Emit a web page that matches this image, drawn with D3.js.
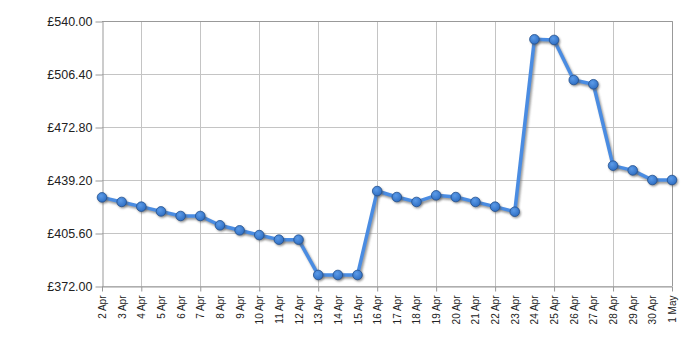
<!DOCTYPE html>
<html>
<head>
<meta charset="utf-8">
<script src="https://cdn.jsdelivr.net/npm/d3@7"></script>
<style>
	body { margin: 0; background: #fff; }
	svg { display: block; font-family: 'DejaVu Sans', Verdana, sans-serif; }
	.grid line { stroke: #c4c4c4; stroke-width: 1; }
	.axis path, .axis line { stroke: #999; }
	.axis text { fill: #222; }
</style>
</head>
<body>
<svg id="chart" width="700" height="350"></svg>
<script>
const dates = ['2 Apr', '3 Apr', '4 Apr', '5 Apr', '6 Apr', '7 Apr', '8 Apr', '9 Apr', '10 Apr', '11 Apr',
	'12 Apr', '13 Apr', '14 Apr', '15 Apr', '16 Apr', '17 Apr', '18 Apr', '19 Apr', '20 Apr', '21 Apr',
	'22 Apr', '23 Apr', '24 Apr', '25 Apr', '26 Apr', '27 Apr', '28 Apr', '29 Apr', '30 Apr', '1 May']
const prices = [428.2, 425.3, 422.3, 419.3, 416.4, 416.4, 410.5, 407.3, 404.3, 401.4,
	401.4, 379.0, 379.0, 379.0, 432.2, 428.4, 425.3, 429.5, 428.4, 425.3,
	422.3, 419.1, 528.4, 528.0, 502.6, 499.9, 448.3, 445.3, 439.2, 439.2]
const yTicks = [372, 405.6, 439.2, 472.8, 506.4, 540]
const majorDates = ['4 Apr', '7 Apr', '10 Apr', '13 Apr', '16 Apr', '19 Apr', '22 Apr', '25 Apr', '28 Apr', '1 May']

function priceChart() {
	const width = 700
	const height = 350
	const margin = { top: 21, right: 28, bottom: 64, left: 102 }

	const data = dates.map((d, i) => ({ date: d, price: prices[i] }))

	const xScale = d3.scalePoint().domain(dates).range([margin.left, width - margin.right])
	const yScale = d3.scaleLinear().domain([372, 540]).range([height - margin.bottom, margin.top])

	const svg = d3.select('#chart')

	const defs = svg.append('defs')
	const grad = defs.append('radialGradient').attr('id', 'dot').attr('cx', '40%').attr('cy', '35%').attr('r', '65%')
	grad.append('stop').attr('offset', '0%').attr('stop-color', '#5c9be8')
	grad.append('stop').attr('offset', '100%').attr('stop-color', '#2f6fc4')
	const blur = defs.append('filter').attr('id', 'soft').attr('x', '-20%').attr('y', '-20%').attr('width', '140%').attr('height', '140%')
	blur.append('feGaussianBlur').attr('stdDeviation', 0.8)

	// grid
	svg.append('g').attr('class', 'grid')
		.selectAll('line').data(yTicks).join('line')
		.attr('x1', margin.left).attr('x2', width - margin.right)
		.attr('y1', d => yScale(d) + 0.5).attr('y2', d => yScale(d) + 0.5)
	svg.append('g').attr('class', 'grid')
		.selectAll('line').data(majorDates).join('line')
		.attr('x1', d => Math.round(xScale(d)) + 0.5).attr('x2', d => Math.round(xScale(d)) + 0.5)
		.attr('y1', margin.top).attr('y2', height - margin.bottom)

	// frame top / right
	svg.append('path')
		.attr('d', `M${margin.left},${margin.top + 0.5}H${width - margin.right + 0.5}V${height - margin.bottom}`)
		.attr('fill', 'none').attr('stroke', '#999')

	const yAxis = d3.axisLeft(yScale).tickValues(yTicks).tickSize(7).tickSizeOuter(0)
		.tickFormat(d => '£' + d3.format('.2f')(d))
	svg.append('g').attr('class', 'axis')
		.attr('transform', `translate(${margin.left + 0.5},0.5)`)
		.call(yAxis)
		.call(g => g.select('.domain').attr('stroke', '#999'))
		.call(g => g.selectAll('line').attr('stroke', '#222'))
		.selectAll('text').attr('font-size', 12.5).attr('x', -10)

	const xAxis = d3.axisBottom(xScale).tickSize(0).tickSizeOuter(0)
	const gx = svg.append('g').attr('class', 'axis')
		.attr('transform', `translate(0,${height - margin.bottom + 0.5})`)
		.call(xAxis)
	gx.select('.domain').attr('stroke', '#999')
	gx.selectAll('text')
		.attr('font-size', 10)
		.attr('transform', 'rotate(-90)')
		.attr('text-anchor', 'end')
		.attr('x', -9)
		.attr('y', 0)
		.attr('dy', '0.35em')
	gx.selectAll('.tick').filter(d => majorDates.includes(d) || d === '2 Apr')
		.append('line').attr('y2', 5).attr('stroke', '#222')

	const line = d3.line().x(d => xScale(d.date)).y(d => yScale(d.price))

	// shadow
	svg.append('path').datum(data)
		.attr('fill', 'none').attr('stroke', '#777').attr('stroke-opacity', 0.75)
		.attr('stroke-width', 3.5).attr('stroke-linejoin', 'round')
		.attr('transform', 'translate(1.5,2)')
		.attr('filter', 'url(#soft)')
		.attr('d', line)
	svg.append('path').datum(data)
		.attr('fill', 'none').attr('stroke', '#4a8ce2')
		.attr('stroke-width', 3.5).attr('stroke-linejoin', 'round')
		.attr('d', line)

	svg.append('g').selectAll('circle').data(data).join('circle')
		.attr('cx', d => xScale(d.date) + 1.2).attr('cy', d => yScale(d.price) + 1.5)
		.attr('r', 5).attr('fill', '#555').attr('opacity', 0.6).attr('filter', 'url(#soft)')
	svg.append('g').selectAll('circle').data(data).join('circle')
		.attr('cx', d => xScale(d.date)).attr('cy', d => yScale(d.price))
		.attr('r', 4.8).attr('fill', 'url(#dot)').attr('stroke', '#24528f').attr('stroke-width', 0.8)
}

priceChart()
</script>
</body>
</html>
